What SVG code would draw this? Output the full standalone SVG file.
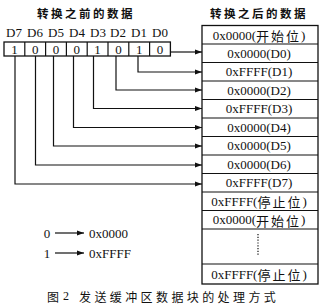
<svg xmlns="http://www.w3.org/2000/svg" width="320" height="307" viewBox="0 0 320 307">
<defs>
<style>
.t{font-family:"Liberation Serif","Noto Sans CJK SC",serif;font-size:13px;fill:#111;text-anchor:middle;dominant-baseline:central}
.h{font-family:"Noto Sans CJK SC",sans-serif;font-size:11.5px;font-weight:bold;fill:#111;text-anchor:middle;dominant-baseline:central;letter-spacing:2.5px}
.c{font-family:"Noto Sans CJK SC",serif;letter-spacing:2px}
.box{fill:#fff;stroke:#111;stroke-width:1.3}
.ln{fill:none;stroke:#111;stroke-width:1.2}
</style>
<marker id="ar" markerWidth="8" markerHeight="6" refX="7" refY="3" orient="auto" markerUnits="userSpaceOnUse">
<path d="M0,0.6 L7,3 L0,5.4 Z" fill="#111"/>
</marker>
</defs>
<rect width="320" height="307" fill="#fff"/>
<text class="h" x="86" y="13">转换之前的数据</text>
<text class="h" x="259" y="13">转换之后的数据</text>
<g id="bits">
<text class="t" x="14" y="32">D7</text>
<text class="t" x="35" y="32">D6</text>
<text class="t" x="56" y="32">D5</text>
<text class="t" x="77" y="32">D4</text>
<text class="t" x="98" y="32">D3</text>
<text class="t" x="118" y="32">D2</text>
<text class="t" x="139" y="32">D1</text>
<text class="t" x="160" y="32">D0</text>
<rect class="box" x="4" y="42" width="166.4" height="14"/>
<path class="ln" d="M24.8,42V56M45.6,42V56M66.4,42V56M87.2,42V56M108,42V56M128.8,42V56M149.6,42V56"/>
<text class="t" x="14.4" y="49">1</text>
<text class="t" x="35.2" y="49">0</text>
<text class="t" x="56" y="49">0</text>
<text class="t" x="76.8" y="49">0</text>
<text class="t" x="97.6" y="49">1</text>
<text class="t" x="118.4" y="49">0</text>
<text class="t" x="139.2" y="49">1</text>
<text class="t" x="160" y="49">0</text>
</g>
<g id="buffer">
<rect class="box" x="202" y="25.5" width="116" height="258.5"/>
<path class="ln" d="M202,44H318M202,62.5H318M202,81H318M202,99.5H318M202,118H318M202,136.5H318M202,155H318M202,173.5H318M202,192H318M202,210.5H318M202,229H318M202,264H318"/>
<text class="t" x="259" y="35">0x0000(<tspan class="c">开始位</tspan>)</text>
<text class="t" x="259" y="53.2">0x0000(D0)</text>
<text class="t" x="259" y="71.7">0xFFFF(D1)</text>
<text class="t" x="259" y="90.2">0x0000(D2)</text>
<text class="t" x="259" y="108.7">0xFFFF(D3)</text>
<text class="t" x="259" y="127.2">0x0000(D4)</text>
<text class="t" x="259" y="145.7">0x0000(D5)</text>
<text class="t" x="259" y="164.2">0x0000(D6)</text>
<text class="t" x="259" y="182.7">0xFFFF(D7)</text>
<text class="t" x="259" y="201.2">0xFFFF(<tspan class="c">停止位</tspan>)</text>
<text class="t" x="259" y="219.7">0x0000(<tspan class="c">开始位</tspan>)</text>
<path d="M258,234V256" fill="none" stroke="#111" stroke-width="1.2" stroke-dasharray="1.2,1.6"/>
<text class="t" x="259" y="274">0xFFFF(<tspan class="c">停止位</tspan>)</text>
</g>
<g id="connectors" class="ln" marker-end="url(#ar)">
<path d="M170.4,52H202"/>
<path d="M138,56V72H202"/>
<path d="M116,56V90H202"/>
<path d="M93.5,56V108.5H202"/>
<path d="M73.5,56V127.5H202"/>
<path d="M53.5,56V146H202"/>
<path d="M35.5,56V165H202"/>
<path d="M15,56V184H202"/>
<path d="M55,233H84"/>
<path d="M55,253H84"/>
</g>
<g id="legend">
<text class="t" x="47" y="233">0</text>
<text class="t" x="47" y="253">1</text>
<text class="t" x="89" y="233" style="text-anchor:start">0x0000</text>
<text class="t" x="89" y="253" style="text-anchor:start">0xFFFF</text>
</g>
<text class="t" x="47" y="296" style="text-anchor:start;font-size:12px"><tspan class="c" style="letter-spacing:4px">图</tspan>2<tspan class="c" dx="10" style="letter-spacing:3.4px">发送缓冲区数据块的处理方式</tspan></text>
</svg>
